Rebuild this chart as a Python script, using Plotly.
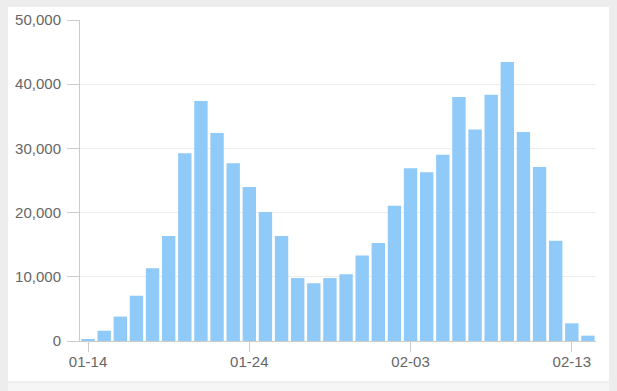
import plotly.graph_objects as go

dates = ["01-14", "01-15", "01-16", "01-17", "01-18", "01-19", "01-20", "01-21",
         "01-22", "01-23", "01-24", "01-25", "01-26", "01-27", "01-28", "01-29",
         "01-30", "01-31", "02-01", "02-02", "02-03", "02-04", "02-05", "02-06",
         "02-07", "02-08", "02-09", "02-10", "02-11", "02-12", "02-13", "02-14"]
values = [300, 1600, 3800, 7050, 11350, 16350, 29250, 37400,
          32400, 27700, 24000, 20100, 16350, 9800, 9000, 9800,
          10400, 13300, 15250, 21050, 26900, 26300, 29000, 38000,
          32950, 38350, 43450, 32550, 27100, 15600, 2750, 830]
x_ticks = ["01-14", "01-24", "02-03", "02-13"]
y_ticks = [0, 10000, 20000, 30000, 40000, 50000]
y_tick_text = ["0", "10,000", "20,000", "30,000", "40,000", "50,000"]

W, H = 617, 391
L, R, T, B = 80, 21, 20, 50
pw, ph = W - L - R, H - T - B


def px(x):
    return (x - L) / pw


def py(y):
    return (H - B - y) / ph


fig = go.Figure()
fig.add_trace(go.Bar(x=dates, y=values, marker=dict(color="#90CAF9", line=dict(width=0)),
                     hoverinfo="x+y"))

shapes = [
    # card
    dict(type="rect", xref="paper", yref="paper", x0=px(8), x1=px(609), y0=py(382), y1=py(7),
         fillcolor="#ffffff", line=dict(width=0), layer="below"),
    # bottom strip
    dict(type="rect", xref="paper", yref="paper", x0=px(8), x1=px(609), y0=py(395), y1=py(382),
         fillcolor="#f6f6f6", line=dict(width=0), layer="below"),
    dict(type="line", xref="paper", yref="paper", x0=px(8), x1=px(609), y0=py(382), y1=py(382),
         line=dict(color="#e2e2e2", width=1), layer="below"),
]

fig.update_layout(
    width=W, height=H,
    margin=dict(l=L, r=R, t=T, b=B, pad=0),
    paper_bgcolor="#ededed",
    plot_bgcolor="rgba(0,0,0,0)",
    bargap=0.17,
    showlegend=False,
    shapes=shapes,
    font=dict(family="Liberation Sans, Arial, sans-serif", size=15, color="#666666"),
    xaxis=dict(type="category", tickmode="array", tickvals=x_ticks, ticktext=x_ticks,
               showline=True, linecolor="#cccccc", linewidth=1,
               ticks="outside", ticklen=10, tickcolor="#cccccc", tickwidth=1,
               ticklabelstandoff=-3,
               showgrid=False, zeroline=False, fixedrange=True),
    yaxis=dict(range=[0, 50000], tickmode="array", tickvals=y_ticks, ticktext=y_tick_text,
               showline=True, linecolor="#cccccc", linewidth=1,
               ticks="outside", ticklen=12, tickcolor="#cccccc", tickwidth=1,
               ticklabelstandoff=3,
               showgrid=True, gridcolor="#eeeeee", gridwidth=1,
               zeroline=False, fixedrange=True),
)

fig.write_html("out.html")
